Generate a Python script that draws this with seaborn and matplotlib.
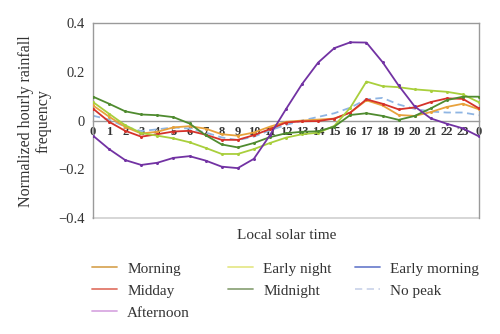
import numpy as np
import pandas as pd
import matplotlib
matplotlib.use("Agg")
import matplotlib.pyplot as plt
from matplotlib.lines import Line2D
import seaborn as sns

hours = list(range(25))
tick_labels = [str(h) for h in range(24)] + ["0"]

morning = [0.062, 0.016, -0.026, -0.053, -0.046, -0.028, -0.023, -0.033, -0.056, -0.062,
           -0.049, -0.025, -0.005, 0.000, 0.004, 0.008, 0.033, 0.083, 0.062, 0.023,
           0.019, 0.035, 0.056, 0.069, 0.046]
midday = [0.049, -0.005, -0.042, -0.066, -0.056, -0.045, -0.042, -0.058, -0.079, -0.079,
          -0.060, -0.035, -0.008, -0.003, -0.002, 0.008, 0.033, 0.087, 0.069, 0.046,
          0.054, 0.076, 0.091, 0.089, 0.050]
afternoon = [-0.062, -0.117, -0.162, -0.182, -0.173, -0.153, -0.146, -0.164, -0.189, -0.195,
             -0.157, -0.060, 0.047, 0.150, 0.238, 0.297, 0.321, 0.320, 0.240, 0.144,
             0.058, 0.009, -0.013, -0.032, -0.065]
early_night = [0.076, 0.028, -0.019, -0.051, -0.062, -0.073, -0.089, -0.112, -0.137, -0.137,
               -0.117, -0.092, -0.070, -0.056, -0.050, -0.022, 0.053, 0.160, 0.141, 0.137,
               0.128, 0.123, 0.118, 0.107, 0.075]
midnight = [0.098, 0.069, 0.038, 0.025, 0.022, 0.014, -0.012, -0.060, -0.098, -0.110,
            -0.092, -0.068, -0.052, -0.046, -0.044, -0.025, 0.023, 0.030, 0.019, 0.003,
            0.019, 0.050, 0.084, 0.098, 0.098]
no_peak = [0.020, 0.004, -0.025, -0.043, -0.036, -0.028, -0.033, -0.049, -0.069, -0.080,
           -0.066, -0.040, -0.018, 0.000, 0.015, 0.030, 0.053, 0.087, 0.093, 0.066,
           0.048, 0.037, 0.033, 0.033, 0.022]

solid_series = {
    "Morning": morning,
    "Midday": midday,
    "Early night": early_night,
    "Midnight": midnight,
    "Afternoon": afternoon,
}
line_colors = {
    "Morning": "#E8A23C",
    "Midday": "#D5322A",
    "Afternoon": "#7232A3",
    "Early night": "#A9CF3C",
    "Midnight": "#4F8B2F",
    "No peak": "#8FB5E3",
}
legend_colors = {
    "Morning": "#D9A85A",
    "Midday": "#E2786A",
    "Afternoon": "#D9A9E2",
    "Early night": "#E6E88C",
    "Midnight": "#8FA67C",
    "Early morning": "#7283CF",
    "No peak": "#CDD5EA",
}
legend_columns = [
    ["Morning", "Midday", "Afternoon"],
    ["Early night", "Midnight"],
    ["Early morning", "No peak"],
]
legend_x = [0.184, 0.456, 0.710]

df = pd.DataFrame([
    {"hour": h, "value": v, "series": name}
    for name, vals in solid_series.items()
    for h, v in zip(hours, vals)
])
df_np = pd.DataFrame({"hour": hours, "value": no_peak})

sns.set_style("white")
plt.rcParams["font.family"] = ["Liberation Serif", "DejaVu Serif"]
text_color = "#333333"
frame_color = "#9a9a9a"

fig = plt.figure(figsize=(5, 3.34), dpi=100)
ax = fig.add_axes([0.186, 0.347, 0.772, 0.584])

# dashed "No peak" curve sits beneath the solid curves
sns.lineplot(data=df_np, x="hour", y="value", color=line_colors["No peak"],
             linewidth=1.3, dashes=False, ax=ax, zorder=2)
ax.lines[-1].set_dashes((4, 2.5))

sns.lineplot(
    data=df, x="hour", y="value", hue="series",
    hue_order=list(solid_series.keys()),
    palette=line_colors, marker="o",
    markersize=2.2, markeredgewidth=0, linewidth=1.3,
    legend=False, ax=ax, zorder=3,
)

ax.set_xlim(0, 24)
ax.set_ylim(-0.4, 0.4)
ax.set_yticks([-0.4, -0.2, 0, 0.2, 0.4])
ax.set_yticklabels(["\u22120.4", "\u22120.2", "0", "0.2", "0.4"])
ax.set_xticks(hours)
ax.set_xticklabels(tick_labels)

ax.spines["bottom"].set_position(("data", 0))
for s in ["left", "right", "top", "bottom"]:
    ax.spines[s].set_color(frame_color)
    ax.spines[s].set_linewidth(1.0)
ax.axhline(-0.4, color="#cfcfcf", linewidth=1.2, clip_on=False)

ax.tick_params(axis="x", direction="in", length=4, width=0.8, color=frame_color,
               labelsize=9, labelcolor=text_color, pad=4)
ax.tick_params(axis="y", length=0, labelsize=10.5, labelcolor=text_color, pad=6)
for lbl in ax.get_xticklabels():
    lbl.set_fontweight("bold")

ax.set_xlabel("")
ax.set_ylabel("")
fig.text(0.07, 0.638, "Normalized hourly rainfall\nfrequency", rotation=90,
         ha="center", va="center", multialignment="center", fontsize=11.5,
         linespacing=1.1, color=text_color)
fig.text(0.574, 0.296, "Local solar time", ha="center", va="center", fontsize=11,
         color=text_color)

for names, x0 in zip(legend_columns, legend_x):
    handles = []
    for name in names:
        ls = (0, (4, 2.5)) if name == "No peak" else "-"
        handles.append(Line2D([], [], color=legend_colors[name], linewidth=1.3,
                              linestyle=ls))
    fig.legend(handles, names, loc="upper left", bbox_to_anchor=(x0, 0.216),
               frameon=False, fontsize=11, handlelength=1.65, handletextpad=0.65,
               labelspacing=0.55, labelcolor=text_color, borderaxespad=0,
               borderpad=0)

fig.savefig("out.png", dpi=100)
